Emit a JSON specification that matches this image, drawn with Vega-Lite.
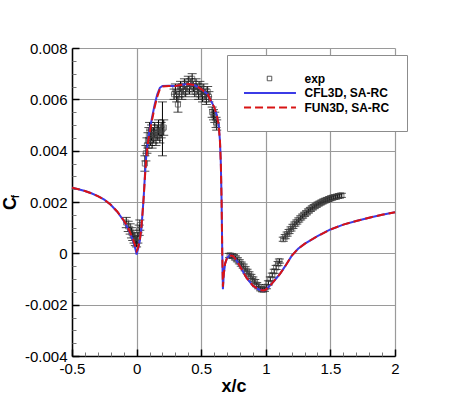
{
  "$schema": "https://vega.github.io/schema/vega-lite/v6.json",
  "width": 323,
  "height": 308,
  "autosize": {"type": "none"},
  "padding": {"left": 72, "top": 48, "right": 55, "bottom": 45},
  "background": "white",
  "config": {
    "view": {"stroke": null},
    "font": "Liberation Sans",
    "axis": {"labelFont": "Liberation Sans", "titleFont": "Liberation Sans"}
  },
  "datasets": {
    "cfd": [
      {"x": -0.5, "cfl3d": 0.00256, "fun3d": 0.00256},
      {"x": -0.45, "cfl3d": 0.0025, "fun3d": 0.0025},
      {"x": -0.4, "cfl3d": 0.00243, "fun3d": 0.00243},
      {"x": -0.35, "cfl3d": 0.00234, "fun3d": 0.00234},
      {"x": -0.3, "cfl3d": 0.00223, "fun3d": 0.00223},
      {"x": -0.25, "cfl3d": 0.00209, "fun3d": 0.00209},
      {"x": -0.2, "cfl3d": 0.00189, "fun3d": 0.00189},
      {"x": -0.15, "cfl3d": 0.00162, "fun3d": 0.00163},
      {"x": -0.1, "cfl3d": 0.00127, "fun3d": 0.00129},
      {"x": -0.07, "cfl3d": 0.001, "fun3d": 0.00103},
      {"x": -0.05, "cfl3d": 0.00078, "fun3d": 0.00082},
      {"x": -0.03, "cfl3d": 0.00052, "fun3d": 0.00058},
      {"x": -0.015, "cfl3d": 0.00028, "fun3d": 0.00036},
      {"x": -0.005, "cfl3d": 0.00008, "fun3d": 0.00018},
      {"x": 0.0, "cfl3d": -0.00005, "fun3d": 0.0001},
      {"x": 0.005, "cfl3d": 0.00005, "fun3d": 0.00014},
      {"x": 0.015, "cfl3d": 0.00025, "fun3d": 0.0003},
      {"x": 0.025, "cfl3d": 0.0005, "fun3d": 0.00052},
      {"x": 0.035, "cfl3d": 0.0009, "fun3d": 0.0009},
      {"x": 0.045, "cfl3d": 0.0015, "fun3d": 0.0015},
      {"x": 0.055, "cfl3d": 0.0022, "fun3d": 0.0022},
      {"x": 0.065, "cfl3d": 0.0031, "fun3d": 0.003},
      {"x": 0.075, "cfl3d": 0.0038, "fun3d": 0.0037},
      {"x": 0.09, "cfl3d": 0.0045, "fun3d": 0.0044},
      {"x": 0.105, "cfl3d": 0.0049, "fun3d": 0.0048},
      {"x": 0.12, "cfl3d": 0.0053, "fun3d": 0.0052},
      {"x": 0.14, "cfl3d": 0.0058, "fun3d": 0.0057},
      {"x": 0.16, "cfl3d": 0.0062, "fun3d": 0.0061},
      {"x": 0.18, "cfl3d": 0.00645, "fun3d": 0.0064},
      {"x": 0.2, "cfl3d": 0.00652, "fun3d": 0.0065},
      {"x": 0.25, "cfl3d": 0.00653, "fun3d": 0.00652},
      {"x": 0.3, "cfl3d": 0.00652, "fun3d": 0.00652},
      {"x": 0.35, "cfl3d": 0.00657, "fun3d": 0.00657},
      {"x": 0.4, "cfl3d": 0.0066, "fun3d": 0.0066},
      {"x": 0.45, "cfl3d": 0.00655, "fun3d": 0.00655},
      {"x": 0.5, "cfl3d": 0.0064, "fun3d": 0.0064},
      {"x": 0.55, "cfl3d": 0.0062, "fun3d": 0.0062},
      {"x": 0.58, "cfl3d": 0.0059, "fun3d": 0.0059},
      {"x": 0.6, "cfl3d": 0.0057, "fun3d": 0.0057},
      {"x": 0.62, "cfl3d": 0.0054, "fun3d": 0.0054},
      {"x": 0.635, "cfl3d": 0.005, "fun3d": 0.005},
      {"x": 0.645, "cfl3d": 0.0044, "fun3d": 0.0044},
      {"x": 0.652, "cfl3d": 0.0035, "fun3d": 0.0035},
      {"x": 0.658, "cfl3d": 0.002, "fun3d": 0.002},
      {"x": 0.663, "cfl3d": 0.0, "fun3d": 0.0},
      {"x": 0.668, "cfl3d": -0.0014, "fun3d": -0.0013},
      {"x": 0.675, "cfl3d": -0.0008, "fun3d": -0.0008},
      {"x": 0.685, "cfl3d": -0.0004, "fun3d": -0.0004},
      {"x": 0.7, "cfl3d": -0.00018, "fun3d": -0.00018},
      {"x": 0.72, "cfl3d": -0.00008, "fun3d": -0.00008},
      {"x": 0.745, "cfl3d": -0.0001, "fun3d": -0.0001},
      {"x": 0.77, "cfl3d": -0.00025, "fun3d": -0.00025},
      {"x": 0.8, "cfl3d": -0.0005, "fun3d": -0.0005},
      {"x": 0.85, "cfl3d": -0.00095, "fun3d": -0.00095},
      {"x": 0.9, "cfl3d": -0.00126, "fun3d": -0.00126},
      {"x": 0.95, "cfl3d": -0.00142, "fun3d": -0.00142},
      {"x": 0.98, "cfl3d": -0.00145, "fun3d": -0.00145},
      {"x": 1.0, "cfl3d": -0.00142, "fun3d": -0.00142},
      {"x": 1.04, "cfl3d": -0.00122, "fun3d": -0.00122},
      {"x": 1.08, "cfl3d": -0.00098, "fun3d": -0.00098},
      {"x": 1.11, "cfl3d": -0.0008, "fun3d": -0.0008},
      {"x": 1.15, "cfl3d": -0.0005, "fun3d": -0.0005},
      {"x": 1.2, "cfl3d": -0.0001, "fun3d": -0.0001},
      {"x": 1.25, "cfl3d": 0.00018, "fun3d": 0.00018},
      {"x": 1.3, "cfl3d": 0.00037, "fun3d": 0.00037},
      {"x": 1.4, "cfl3d": 0.00067, "fun3d": 0.00067},
      {"x": 1.5, "cfl3d": 0.00093, "fun3d": 0.00093},
      {"x": 1.6, "cfl3d": 0.00112, "fun3d": 0.00112},
      {"x": 1.7, "cfl3d": 0.00126, "fun3d": 0.00126},
      {"x": 1.8, "cfl3d": 0.00139, "fun3d": 0.00139},
      {"x": 1.9, "cfl3d": 0.0015, "fun3d": 0.0015},
      {"x": 2.0, "cfl3d": 0.0016, "fun3d": 0.0016}
    ],
    "exp": [
      {"x": -0.08, "cf": 0.0012, "lo": 0.001, "hi": 0.0014},
      {"x": -0.065, "cf": 0.00105, "lo": 0.00085, "hi": 0.00125},
      {"x": -0.05, "cf": 0.00095, "lo": 0.00075, "hi": 0.00115},
      {"x": -0.04, "cf": 0.0008, "lo": 0.0006, "hi": 0.001},
      {"x": -0.03, "cf": 0.0007, "lo": 0.0005, "hi": 0.0009},
      {"x": -0.02, "cf": 0.0006, "lo": 0.0004, "hi": 0.0008},
      {"x": -0.01, "cf": 0.0005, "lo": 0.0003, "hi": 0.0007},
      {"x": 0.0, "cf": 0.00045, "lo": 0.00025, "hi": 0.00065},
      {"x": 0.01, "cf": 0.0006, "lo": 0.0004, "hi": 0.0008},
      {"x": 0.02, "cf": 0.0009, "lo": 0.0007, "hi": 0.0011},
      {"x": 0.025, "cf": 0.0011, "lo": 0.0009, "hi": 0.0013},
      {"x": 0.064, "cf": 0.0035, "lo": 0.0032, "hi": 0.0038},
      {"x": 0.072, "cf": 0.0039, "lo": 0.0036, "hi": 0.0042},
      {"x": 0.08, "cf": 0.0042, "lo": 0.0039, "hi": 0.0045},
      {"x": 0.088, "cf": 0.0044, "lo": 0.0041, "hi": 0.0047},
      {"x": 0.095, "cf": 0.0046, "lo": 0.0043, "hi": 0.0049},
      {"x": 0.1, "cf": 0.0048, "lo": 0.0045, "hi": 0.0051},
      {"x": 0.108, "cf": 0.0045, "lo": 0.0042, "hi": 0.0048},
      {"x": 0.115, "cf": 0.0047, "lo": 0.0044, "hi": 0.005},
      {"x": 0.12, "cf": 0.0044, "lo": 0.0041, "hi": 0.0047},
      {"x": 0.13, "cf": 0.0046, "lo": 0.0043, "hi": 0.0049},
      {"x": 0.14, "cf": 0.0048, "lo": 0.0045, "hi": 0.0051},
      {"x": 0.15, "cf": 0.0045, "lo": 0.0042, "hi": 0.0048},
      {"x": 0.16, "cf": 0.0047, "lo": 0.0044, "hi": 0.005},
      {"x": 0.17, "cf": 0.0049, "lo": 0.0046, "hi": 0.0052},
      {"x": 0.18, "cf": 0.0046, "lo": 0.0043, "hi": 0.0049},
      {"x": 0.19, "cf": 0.0048, "lo": 0.0045, "hi": 0.0051},
      {"x": 0.2, "cf": 0.00485, "lo": 0.0038, "hi": 0.0059},
      {"x": 0.21, "cf": 0.0049, "lo": 0.0046, "hi": 0.0052},
      {"x": 0.29, "cf": 0.0062, "lo": 0.006, "hi": 0.0064},
      {"x": 0.3, "cf": 0.0064, "lo": 0.0062, "hi": 0.0066},
      {"x": 0.31, "cf": 0.0061, "lo": 0.0059, "hi": 0.0063},
      {"x": 0.32, "cf": 0.0058, "lo": 0.0055, "hi": 0.0061},
      {"x": 0.33, "cf": 0.0063, "lo": 0.0061, "hi": 0.0065},
      {"x": 0.34, "cf": 0.0065, "lo": 0.0063, "hi": 0.0067},
      {"x": 0.35, "cf": 0.0062, "lo": 0.006, "hi": 0.0064},
      {"x": 0.36, "cf": 0.0064, "lo": 0.0062, "hi": 0.0066},
      {"x": 0.37, "cf": 0.0066, "lo": 0.0064, "hi": 0.0068},
      {"x": 0.38, "cf": 0.0063, "lo": 0.0061, "hi": 0.0065},
      {"x": 0.39, "cf": 0.0065, "lo": 0.0063, "hi": 0.0067},
      {"x": 0.4, "cf": 0.0067, "lo": 0.0065, "hi": 0.0069},
      {"x": 0.41, "cf": 0.0064, "lo": 0.0062, "hi": 0.0066},
      {"x": 0.42, "cf": 0.0066, "lo": 0.0064, "hi": 0.0068},
      {"x": 0.43, "cf": 0.0068, "lo": 0.0066, "hi": 0.007},
      {"x": 0.44, "cf": 0.0065, "lo": 0.0063, "hi": 0.0067},
      {"x": 0.45, "cf": 0.0063, "lo": 0.0061, "hi": 0.0065},
      {"x": 0.46, "cf": 0.0066, "lo": 0.0064, "hi": 0.0068},
      {"x": 0.47, "cf": 0.0064, "lo": 0.0062, "hi": 0.0066},
      {"x": 0.48, "cf": 0.0062, "lo": 0.006, "hi": 0.0064},
      {"x": 0.49, "cf": 0.0065, "lo": 0.0063, "hi": 0.0067},
      {"x": 0.5, "cf": 0.0063, "lo": 0.0061, "hi": 0.0065},
      {"x": 0.51, "cf": 0.0061, "lo": 0.0059, "hi": 0.0063},
      {"x": 0.52, "cf": 0.0064, "lo": 0.0062, "hi": 0.0066},
      {"x": 0.53, "cf": 0.0062, "lo": 0.006, "hi": 0.0064},
      {"x": 0.54, "cf": 0.006, "lo": 0.0058, "hi": 0.0062},
      {"x": 0.55, "cf": 0.0063, "lo": 0.0061, "hi": 0.0065},
      {"x": 0.56, "cf": 0.0061, "lo": 0.0059, "hi": 0.0063},
      {"x": 0.585, "cf": 0.0055, "lo": 0.0053, "hi": 0.0057},
      {"x": 0.595, "cf": 0.0054, "lo": 0.0052, "hi": 0.0056},
      {"x": 0.605, "cf": 0.0053, "lo": 0.0051, "hi": 0.0055},
      {"x": 0.615, "cf": 0.0051, "lo": 0.0049, "hi": 0.0053},
      {"x": 0.62, "cf": 0.005, "lo": 0.0048, "hi": 0.0052},
      {"x": 0.72, "cf": -0.00008, "lo": -0.00016, "hi": 0.0},
      {"x": 0.735, "cf": -0.0001, "lo": -0.00018, "hi": -0.00002},
      {"x": 0.75, "cf": -0.00012, "lo": -0.0002, "hi": -0.00004},
      {"x": 0.765, "cf": -0.00018, "lo": -0.00026, "hi": -0.0001},
      {"x": 0.78, "cf": -0.00025, "lo": -0.00033, "hi": -0.00017},
      {"x": 0.795, "cf": -0.00033, "lo": -0.00041, "hi": -0.00025},
      {"x": 0.81, "cf": -0.00042, "lo": -0.0005, "hi": -0.00034},
      {"x": 0.825, "cf": -0.0005, "lo": -0.00058, "hi": -0.00042},
      {"x": 0.84, "cf": -0.0006, "lo": -0.00068, "hi": -0.00052},
      {"x": 0.855, "cf": -0.0007, "lo": -0.00078, "hi": -0.00062},
      {"x": 0.87, "cf": -0.0008, "lo": -0.00088, "hi": -0.00072},
      {"x": 0.885, "cf": -0.0009, "lo": -0.00098, "hi": -0.00082},
      {"x": 0.9, "cf": -0.001, "lo": -0.00108, "hi": -0.00092},
      {"x": 0.915, "cf": -0.0011, "lo": -0.00118, "hi": -0.00102},
      {"x": 0.93, "cf": -0.00122, "lo": -0.0013, "hi": -0.00114},
      {"x": 0.945, "cf": -0.0013, "lo": -0.00138, "hi": -0.00122},
      {"x": 0.96, "cf": -0.00138, "lo": -0.00146, "hi": -0.0013},
      {"x": 0.975, "cf": -0.00142, "lo": -0.0015, "hi": -0.00134},
      {"x": 0.99, "cf": -0.0014, "lo": -0.00148, "hi": -0.00132},
      {"x": 1.005, "cf": -0.0013, "lo": -0.00138, "hi": -0.00122},
      {"x": 1.02, "cf": -0.00115, "lo": -0.00123, "hi": -0.00107},
      {"x": 1.035, "cf": -0.001, "lo": -0.00108, "hi": -0.00092},
      {"x": 1.05, "cf": -0.00085, "lo": -0.00093, "hi": -0.00077},
      {"x": 1.065, "cf": -0.0007, "lo": -0.00078, "hi": -0.00062},
      {"x": 1.08, "cf": -0.00055, "lo": -0.00063, "hi": -0.00047},
      {"x": 1.095, "cf": -0.0004, "lo": -0.00048, "hi": -0.00032},
      {"x": 1.105, "cf": -0.0003, "lo": -0.00038, "hi": -0.00022},
      {"x": 1.135, "cf": 0.00055, "lo": 0.00047, "hi": 0.00063},
      {"x": 1.15, "cf": 0.00065, "lo": 0.00057, "hi": 0.00073},
      {"x": 1.165, "cf": 0.00075, "lo": 0.00067, "hi": 0.00083},
      {"x": 1.18, "cf": 0.00085, "lo": 0.00077, "hi": 0.00093},
      {"x": 1.195, "cf": 0.00095, "lo": 0.00087, "hi": 0.00103},
      {"x": 1.21, "cf": 0.00105, "lo": 0.00097, "hi": 0.00113},
      {"x": 1.225, "cf": 0.00114, "lo": 0.00106, "hi": 0.00122},
      {"x": 1.24, "cf": 0.00122, "lo": 0.00114, "hi": 0.0013},
      {"x": 1.255, "cf": 0.0013, "lo": 0.00122, "hi": 0.00138},
      {"x": 1.27, "cf": 0.00138, "lo": 0.0013, "hi": 0.00146},
      {"x": 1.285, "cf": 0.00145, "lo": 0.00137, "hi": 0.00153},
      {"x": 1.3, "cf": 0.00152, "lo": 0.00144, "hi": 0.0016},
      {"x": 1.315, "cf": 0.00158, "lo": 0.0015, "hi": 0.00166},
      {"x": 1.33, "cf": 0.00165, "lo": 0.00157, "hi": 0.00173},
      {"x": 1.345, "cf": 0.00171, "lo": 0.00163, "hi": 0.00179},
      {"x": 1.36, "cf": 0.00177, "lo": 0.00169, "hi": 0.00185},
      {"x": 1.375, "cf": 0.00182, "lo": 0.00174, "hi": 0.0019},
      {"x": 1.39, "cf": 0.00187, "lo": 0.00179, "hi": 0.00195},
      {"x": 1.405, "cf": 0.00192, "lo": 0.00184, "hi": 0.002},
      {"x": 1.42, "cf": 0.00196, "lo": 0.00188, "hi": 0.00204},
      {"x": 1.435, "cf": 0.002, "lo": 0.00192, "hi": 0.00208},
      {"x": 1.45, "cf": 0.00204, "lo": 0.00196, "hi": 0.00212},
      {"x": 1.465, "cf": 0.00207, "lo": 0.00199, "hi": 0.00215},
      {"x": 1.48, "cf": 0.0021, "lo": 0.00202, "hi": 0.00218},
      {"x": 1.495, "cf": 0.00213, "lo": 0.00205, "hi": 0.00221},
      {"x": 1.51, "cf": 0.00216, "lo": 0.00208, "hi": 0.00224},
      {"x": 1.525, "cf": 0.00218, "lo": 0.0021, "hi": 0.00226},
      {"x": 1.54, "cf": 0.0022, "lo": 0.00212, "hi": 0.00228},
      {"x": 1.555, "cf": 0.00222, "lo": 0.00214, "hi": 0.0023},
      {"x": 1.57, "cf": 0.00224, "lo": 0.00216, "hi": 0.00232},
      {"x": 1.585, "cf": 0.00226, "lo": 0.00218, "hi": 0.00234}
    ]
  },
  "resolve": {"axis": {"x": "independent", "y": "independent"}},
  "layer": [
    {
      "data": {"name": "exp"},
      "mark": {"type": "errorbar", "ticks": {"size": 9, "color": "black", "strokeWidth": 0.8}, "color": "black", "strokeWidth": 0.8},
      "encoding": {
        "x": {"field": "x", "type": "quantitative", "scale": {"domain": [-0.5, 2], "nice": false, "zero": false}, "axis": null},
        "y": {"field": "lo", "type": "quantitative", "scale": {"domain": [-0.004, 0.008], "nice": false, "zero": false}, "axis": null},
        "y2": {"field": "hi"}
      }
    },
    {
      "data": {"name": "exp"},
      "mark": {"type": "point", "shape": "square", "filled": false, "size": 26, "strokeWidth": 1},
      "encoding": {
        "x": {"field": "x", "type": "quantitative", "axis": null},
        "y": {"field": "cf", "type": "quantitative", "axis": null},
        "color": {"datum": "exp"}
      }
    },
    {
      "data": {"name": "cfd"},
      "mark": {"type": "line", "strokeWidth": 2},
      "encoding": {
        "x": {"field": "x", "type": "quantitative",
          "axis": {"orient": "bottom", "values": [-0.5, 0, 0.5, 1, 1.5, 2], "labelExpr": "'' + datum.value",
            "labelFontSize": 15, "labelColor": "black", "labelPadding": 12, "labelFlush": false,
            "tickSize": -7, "tickWidth": 1.5, "tickColor": "black",
            "domainColor": "black", "domainWidth": 1.5,
            "grid": true, "gridColor": "#9a9a9a", "gridWidth": 1.2,
            "title": "x/c", "titleFontSize": 18, "titleFontWeight": "bold", "titleColor": "black", "titleY": 35, "titleBaseline": "alphabetic"}},
        "y": {"field": "cfl3d", "type": "quantitative",
          "axis": {"orient": "left", "values": [-0.004, -0.002, 0, 0.002, 0.004, 0.006, 0.008], "labelExpr": "'' + datum.value",
            "labelFontSize": 15, "labelColor": "black", "labelPadding": 12, "labelFlush": false,
            "tickSize": -7, "tickWidth": 1.5, "tickColor": "black",
            "domainColor": "black", "domainWidth": 1.5,
            "grid": true, "gridColor": "#9a9a9a", "gridWidth": 1.2,
            "title": "C", "titleFontSize": 18, "titleFontWeight": "bold", "titleColor": "black",
            "titleAngle": -90, "titleX": -57, "titleY": 155, "titleAlign": "center", "titleBaseline": "alphabetic"}},
        "color": {"datum": "CFL3D, SA-RC",
          "scale": {"domain": ["exp", "CFL3D, SA-RC", "FUN3D, SA-RC"], "range": ["#444444", "#3b3be6", "#d81414"]},
          "legend": {"orient": "none", "legendX": 155, "legendY": 7, "title": null,
            "fillColor": "white", "strokeColor": "#8c8c8c", "padding": 17,
            "labelFont": "Liberation Sans", "labelFontSize": 12, "labelFontWeight": "bold", "labelColor": "black",
            "symbolType": "stroke", "symbolStrokeWidth": 2, "clipHeight": 13, "rowPadding": 1.5,
            "symbolOffset": 19.5, "labelOffset": 29,
            "encode": {"symbols": {"update": {
              "shape": {"signal": "datum.value === 'exp' ? 'square' : 'stroke'"},
              "size": {"signal": "datum.value === 'exp' ? 20 : 2800"},
              "strokeDash": {"signal": "datum.value === 'FUN3D, SA-RC' ? [8, 4] : [1, 0]"},
              "strokeWidth": {"signal": "datum.value === 'exp' ? 1 : 2"},
              "fill": {"value": "transparent"}
            }}}}}
      }
    },
    {
      "data": {"name": "cfd"},
      "mark": {"type": "line", "strokeWidth": 2, "strokeDash": [8, 4]},
      "encoding": {
        "x": {"field": "x", "type": "quantitative",
          "axis": {"orient": "bottom", "values": [-0.4, -0.3, -0.2, -0.1, 0.1, 0.2, 0.3, 0.4, 0.6, 0.7, 0.8, 0.9, 1.1, 1.2, 1.3, 1.4, 1.6, 1.7, 1.8, 1.9],
            "labels": false, "grid": false, "domain": false, "tickSize": -4, "tickWidth": 1, "tickColor": "#777777", "title": null}},
        "y": {"field": "fun3d", "type": "quantitative",
          "axis": {"orient": "left", "values": [-0.0035, -0.003, -0.0025, -0.0015, -0.001, -0.0005, 0.0005, 0.001, 0.0015, 0.0025, 0.003, 0.0035, 0.0045, 0.005, 0.0055, 0.0065, 0.007, 0.0075],
            "labels": false, "grid": false, "domain": false, "tickSize": -4, "tickWidth": 1, "tickColor": "#777777",
            "title": "f", "titleFontSize": 10, "titleFontWeight": "bold", "titleColor": "black",
            "titleAngle": -90, "titleX": -54, "titleY": 148, "titleAlign": "center", "titleBaseline": "alphabetic"}},
        "color": {"datum": "FUN3D, SA-RC"}
      }
    }
  ]
}
